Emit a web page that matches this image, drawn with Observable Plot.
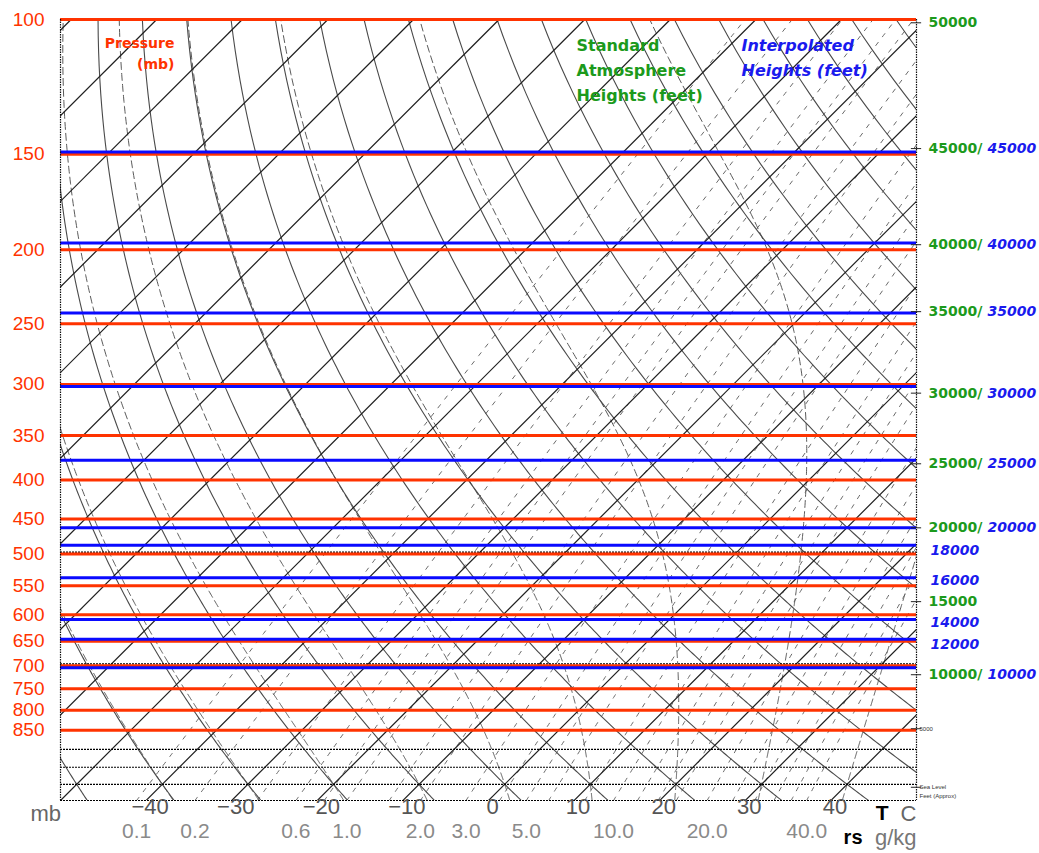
<!DOCTYPE html>
<html><head><meta charset="utf-8">
<script src="https://cdn.jsdelivr.net/npm/d3@7"></script>
<script src="https://cdn.jsdelivr.net/npm/@observablehq/plot@0.6"></script>
<style>body{margin:0;background:#fff} svg{display:block}</style>
</head><body><div id="chart"></div>
<script>
// ---- data ----
const pressureLevels = [100,150,200,250,300,350,400,450,500,550,600,650,700,750,800,850];
const dottedIsobars = [900,950,1000,1050];
const dottedUnderRed = [500,700];
const isotherms = [-140,-130,-120,-110,-100,-90,-80,-70,-60,-50,-40,-30,-20,-10,0,10,20,30,40,50];
const dryAdiabats = [-50,-40,-30,-20,-10,0,10,20,30,40,50,60,70,80,90,100,110,120,130,140,150,160,170,180];
const moistAdiabats = [-40,-30,-20,-10,0,10,20,30,40];
const mixingRatios = [0.1,0.2,0.4,0.6,0.8,1,1.5,2,3,4,5,6,8,10,12,14,16,20,24,28,32,36,40];
const mixingLabels = [0.1,0.2,0.6,1.0,2.0,3.0,5.0,10.0,20.0,40.0];
const tempLabels = [-40,-30,-20,-10,0,10,20,30,40];
const greenHeights = [50000,45000,40000,35000,30000,25000,20000,15000,10000];
const greenLabelP  = [101,147.5,197,241,308,381,462,577,719];
const blueHeights  = [45000,40000,35000,30000,25000,20000,18000,16000,14000,12000,10000];
const blueLineP    = [149,196,242,302,377,462,487,537,609,646,704];
const blueLabelP   = [147.5,197,241,308,381,462,495,541,614,657,719];
const smallLabels  = ["5000","Sea Level","Feet (Approx)"];
const smallLabelP  = [846,1009,1035];
const rightTickP   = [101,147.5,197,241,308,381,462,577,719,846,1009];

// ---- thermodynamic geometry ----
const SKEW = 38.8, PBOT = 1050, PTOP = 100;
const skewX = (T, p) => T + SKEW * Math.log(PBOT / p);
const esat = T => 6.112 * Math.exp(17.67 * T / (T + 243.5));
const dryT = (th, p) => (th + 273.15) * Math.pow(p / 1000, 0.2857) - 273.15;
const dewFromW = (w, p) => { const e = w * p / (622 + w); const l = Math.log(e / 6.112); return 243.5 * l / (17.67 - l); };
const pGrid = d3.range(PBOT, PTOP - 0.01, -5);
function dTdp(T, p) {
  const Tk = T + 273.15, e = esat(T), rs = 0.622 * e / (p - e);
  const num = 287.04 * Tk + 2.501e6 * rs;
  const den = 1005.7 + (2.501e6 * 2.501e6 * rs * 0.622) / (287.04 * Tk * Tk);
  return num / (den * p);
}
function integrate(T, p, h, stop) {
  const out = [[p, T]];
  while ((h < 0 && p > stop) || (h > 0 && p < stop)) {
    const k1 = dTdp(T, p), k2 = dTdp(T + h * k1 / 2, p + h / 2),
          k3 = dTdp(T + h * k2 / 2, p + h / 2), k4 = dTdp(T + h * k3, p + h);
    T += h * (k1 + 2 * k2 + 2 * k3 + k4) / 6; p += h;
    out.push([p, T]);
  }
  return out;
}
function moistCurve(tw) {
  const up = integrate(tw, 1000, -2, PTOP), down = integrate(tw, 1000, 2, PBOT);
  return [...down.reverse(), ...up.slice(1)].map(([p, T]) => ({id: tw, X: skewX(T, p), p}));
}
const dryData = dryAdiabats.flatMap(th => pGrid.map(p => ({id: th, X: skewX(dryT(th, p), p), p})));
const mixData = mixingRatios.flatMap(w => pGrid.map(p => ({id: w, X: skewX(dewFromW(w, p), p), p})));
const moistData = moistAdiabats.flatMap(moistCurve);

const RED = "#ff3300", BLUE = "#0a0aff", GREEN = "#1c9a1c", TBLUE = "#1a1aee";
const SANS = "Liberation Sans, Arial, sans-serif";
const VERD = "DejaVu Sans, Verdana, sans-serif";
const fmtT = d => d < 0 ? "\u2212" + (-d) : String(d);

function note(text, anchor, dx, dy, o = {}) {
  return Plot.text([text], {frameAnchor: anchor, dx, dy, text: d => d, lineAnchor: "middle", ...o});
}

const greenData = greenHeights.map((h, i) => ({h, p: greenLabelP[i], paired: blueHeights.includes(h)}));
const blueData = blueHeights.map((h, i) => ({h, p: blueLabelP[i], paired: greenHeights.includes(h)}));

const chart = Plot.plot({
  width: 1039, height: 853,
  marginLeft: 60, marginRight: 123, marginTop: 19, marginBottom: 53,
  x: {type: "linear", domain: [-50, 50], axis: null},
  y: {type: "log", domain: [PTOP, PBOT], reverse: true, axis: null},
  marks: [
    Plot.line(mixData, {x: "X", y: "p", z: "id", stroke: "#6a6a6a", strokeWidth: 1, strokeDasharray: "4,7", clip: true}),
    Plot.line(moistData, {x: "X", y: "p", z: "id", stroke: "#5a5a5a", strokeWidth: 1, strokeDasharray: "7,4", clip: true}),
    Plot.line(dryData, {x: "X", y: "p", z: "id", stroke: "#4a4a4a", strokeWidth: 1.1, clip: true}),
    Plot.link(isotherms, {x1: t => skewX(t, PBOT), y1: () => PBOT, x2: t => skewX(t, PTOP), y2: () => PTOP, stroke: "#1e1e1e", strokeWidth: 1.2, clip: true}),
    Plot.ruleY(dottedIsobars, {stroke: "#000", strokeWidth: 1.2, strokeDasharray: "2,1"}),
    Plot.ruleY(dottedUnderRed, {stroke: "#000", strokeWidth: 1.2, strokeDasharray: "2,1", dy: -2}),
    Plot.ruleY(pressureLevels, {stroke: RED, strokeWidth: 3}),
    Plot.ruleY(blueLineP, {stroke: BLUE, strokeWidth: 3}),
    Plot.ruleX([-50, 50], {stroke: "#111", strokeWidth: 1.2, strokeDasharray: "1.5,1"}),
    Plot.ruleY(rightTickP, {x1: 49.4, x2: 50.6, stroke: "#222", strokeWidth: 1}),
    // left pressure labels
    Plot.text(pressureLevels, {y: d => d, text: d => String(d), frameAnchor: "left", dx: -16, textAnchor: "end", fill: RED, fontSize: 19, fontFamily: SANS}),
    // bottom labels
    Plot.text(tempLabels, {x: d => d, text: fmtT, frameAnchor: "bottom", dx: 4, dy: 13, fill: "#555", fontSize: 22, fontFamily: SANS}),
    Plot.text(mixingLabels, {x: w => dewFromW(w, PBOT), text: w => w.toFixed(1), frameAnchor: "bottom", dy: 37, fill: "#8a8a8a", fontSize: 21, fontFamily: SANS}),
    note("mb", "bottom-left", -30, 13, {fill: "#666", fontSize: 22, fontFamily: SANS}),
    note("T", "bottom-right", -28, 13, {fill: "#000", fontSize: 21, fontWeight: "bold", fontFamily: SANS}),
    note("C", "bottom-right", 0, 13, {fill: "#666", fontSize: 22, fontFamily: SANS}),
    note("rs", "bottom-right", -54, 37, {fill: "#000", fontSize: 20, fontWeight: "bold", fontFamily: SANS}),
    note("g/kg", "bottom-right", 0, 37, {fill: "#777", fontSize: 22, fontFamily: SANS}),
    // right height labels
    Plot.text(greenData, {y: "p", text: d => d.paired ? d.h + "/" : String(d.h), frameAnchor: "right", dx: 12, textAnchor: "start", fill: GREEN, fontSize: 14, fontWeight: "bold", fontFamily: VERD}),
    Plot.text(blueData.filter(d => d.paired), {y: "p", text: d => String(d.h), frameAnchor: "right", dx: 71, textAnchor: "start", fill: TBLUE, fontSize: 14, fontWeight: "bold", fontStyle: "italic", fontFamily: VERD}),
    Plot.text(blueData.filter(d => !d.paired), {y: "p", text: d => String(d.h), frameAnchor: "right", dx: 14, textAnchor: "start", fill: TBLUE, fontSize: 14, fontWeight: "bold", fontStyle: "italic", fontFamily: VERD}),
    Plot.text(smallLabels.map((t, i) => ({t, p: smallLabelP[i]})), {y: "p", text: "t", frameAnchor: "right", dx: 3, textAnchor: "start", fill: "#333", fontSize: 6, fontFamily: SANS}),
    // in-chart annotations
    note("Pressure", "top-left", 114, 24, {textAnchor: "end", fill: RED, fontSize: 14, fontWeight: "bold", fontFamily: VERD}),
    note("(mb)", "top-left", 114, 45, {textAnchor: "end", fill: RED, fontSize: 14, fontWeight: "bold", fontFamily: VERD}),
    note("Standard", "top-left", 516, 26, {textAnchor: "start", fill: GREEN, fontSize: 16, fontWeight: "bold", fontFamily: VERD}),
    note("Atmosphere", "top-left", 516, 51, {textAnchor: "start", fill: GREEN, fontSize: 16, fontWeight: "bold", fontFamily: VERD}),
    note("Heights (feet)", "top-left", 516, 76, {textAnchor: "start", fill: GREEN, fontSize: 16, fontWeight: "bold", fontFamily: VERD}),
    note("Interpolated", "top-left", 681, 26, {textAnchor: "start", fill: TBLUE, fontSize: 16, fontWeight: "bold", fontStyle: "italic", fontFamily: VERD}),
    note("Heights (feet)", "top-left", 681, 51, {textAnchor: "start", fill: TBLUE, fontSize: 16, fontWeight: "bold", fontStyle: "italic", fontFamily: VERD})
  ]
});
document.getElementById("chart").appendChild(chart);
</script>
</body></html>
